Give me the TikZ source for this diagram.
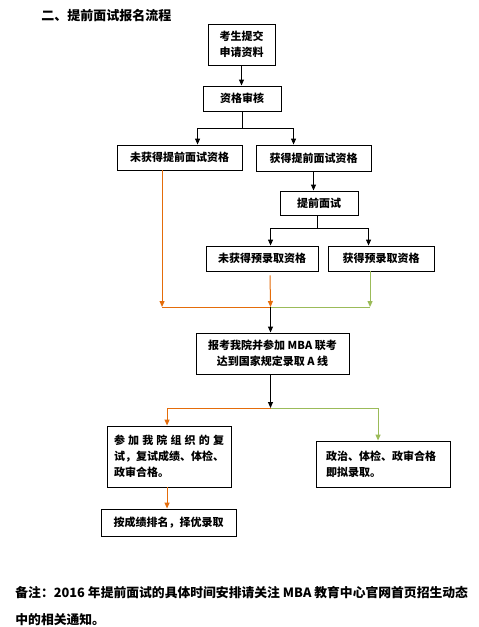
\documentclass[tikz,border=0pt]{standalone}
\usepackage{fontspec}
\setmainfont{Noto Sans CJK SC}
\usetikzlibrary{shapes,arrows.meta,positioning,calc}
\definecolor{orline}{HTML}{E46C0A}
\definecolor{grline}{HTML}{9BBB59}

\begin{document}
\begin{tikzpicture}[x=1pt, y=-1pt, line width=0.9pt, >={Triangle[length=6pt,width=5pt]},
	every node/.style={font=\bfseries\fontsize{11}{16}\selectfont},
	box/.style={rectangle, draw, align=center, inner sep=2pt},
	arancio/.style={draw=orline, line width=1pt},
	verde/.style={draw=grline, line width=1pt}]
				\useasboundingbox (0,0) rectangle (479,627);
				\node[anchor=west, inner sep=0pt, font=\bfseries\fontsize{13}{16}\selectfont] (titolo) at (41,16) {二、提前面试报名流程};
				
				\node[box, minimum width=67pt, minimum height=41pt] (tijiao) at (241.5,44.5) {考生提交\\申请资料};
				\node[box, minimum width=78pt, minimum height=25pt] (shenhe) at (242,98.5) {资格审核};
				\node[box, minimum width=125pt, minimum height=25pt] (nomian) at (179.5,157.5) {未获得提前面试资格};
				\node[box, minimum width=115pt, minimum height=26pt] (simian) at (313.5,158) {获得提前面试资格};
				\node[box, minimum width=78pt, minimum height=24pt] (mianshi) at (319,203) {提前面试};
				\node[box, minimum width=112pt, minimum height=25pt] (noyu) at (262,258.5) {未获得预录取资格};
				\node[box, minimum width=106pt, minimum height=25pt] (siyu) at (381,258.5) {获得预录取资格};
				\node[box, minimum width=153pt, minimum height=41pt] (lianko) at (272.5,353.5) {报考我院并参加 MBA 联考\\达到国家规定录取 A 线};
				\node[box, align=left, text width=110pt, inner xsep=7pt, minimum height=61pt] (fushi) at (169,456.5)
					{\makebox[110pt]{参\hfill 加\hfill 我\hfill 院\hfill 组\hfill 织\hfill 的\hfill 复}\\试，复试成绩、体检、\\政审合格。};
				\node[box, align=left, text width=114pt, inner xsep=10pt, minimum height=46pt] (nilu) at (383,464) {政治、体检、政审合格\\即拟录取。};
				\node[box, minimum width=135pt, minimum height=27pt] (paiming) at (168.5,522.5) {按成绩排名，择优录取};
				
				\node[anchor=west, inner sep=0pt, align=left, font=\bfseries\fontsize{12.8}{27}\selectfont] (nota) at (15,606.5)
					{备注：2016 年提前面试的具体时间安排请关注 MBA 教育中心官网首页招生动态\\中的相关通知。};
				
				% punti di snodo
				\coordinate (snodo1) at (242,128);
				\coordinate (snodo2) at (317,228);
				\coordinate (unione) at (270.5,307);
				\coordinate (snodo3) at (270.5,408);
				
				\draw[->] (tijiao.south) -- (tijiao.south |- shenhe.north);
				\draw (shenhe.south) -- (snodo1);
				\draw[->] (snodo1) -| ($(nomian.north west)+(81,0)$);
				\draw[->] (snodo1) -| ($(simian.north west)+(38,0)$);
				\draw[->] (simian.south) -- (simian.south |- mianshi.north);
				\draw (snodo2 |- mianshi.south) -- (snodo2);
				\draw[->] (snodo2) -| ($(noyu.north west)+(65,0)$);
				\draw[->] (snodo2) -| ($(siyu.north west)+(41,0)$);
				
				% rami colorati
				\draw[arancio, ->] ($(nomian.south west)+(45.5,0)$) coordinate (o1) -- (o1 |- unione);
				\draw[arancio] (o1 |- unione) -- (unione);
				\draw[arancio, ->] ($(noyu.south west)+(64.5,4)$) -- (unione);
				\draw[verde, ->] ($(siyu.south west)+(42.5,0)$) coordinate (g1) -- (g1 |- unione);
				\draw[verde] (unione) -- (g1 |- unione);
				\draw[->] (unione) -- (unione |- lianko.north);
				
				\draw[->] (snodo3 |- lianko.south) -- (snodo3);
				\draw[arancio, ->] (snodo3) -| ($(fushi.north west)+(60.5,0)$);
				\draw[verde, ->] (snodo3) -| ($(nilu.north west)+(62.5,0)$);
				\draw[arancio, ->] ($(fushi.south west)+(60.5,0)$) -- ($(paiming.north west)+(66.5,0)$);
			\end{tikzpicture}
\end{document}
